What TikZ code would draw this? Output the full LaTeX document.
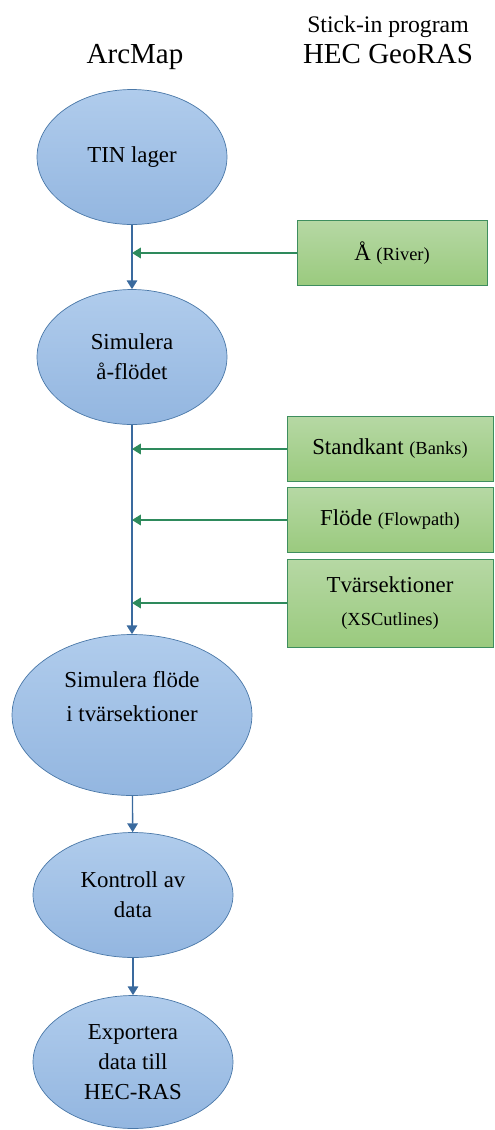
\documentclass[tikz,border=0pt]{standalone}
\usepackage{fontspec}
\setmainfont{Liberation Serif}
\usetikzlibrary{shapes.geometric,arrows.meta}
\definecolor{ellline}{HTML}{4A78A8}
\definecolor{elltop}{HTML}{B0CCEC}
\definecolor{ellbot}{HTML}{93B6E0}
\definecolor{boxline}{HTML}{3E8E5E}
\definecolor{boxtop}{HTML}{B6D8A4}
\definecolor{boxbot}{HTML}{9ACA7E}
\definecolor{flowblue}{HTML}{3A6A9E}
\definecolor{feedgreen}{HTML}{2E8A5C}
\begin{document}
\begin{tikzpicture}[x=0.02cm,y=-0.02cm]
 \tikzset{process/.style={draw=ellline, ellipse, inner sep=0pt, top color=elltop, bottom color=ellbot, align=center, font=\fontsize{13}{17}\selectfont}}
 \tikzset{input/.style={draw=boxline, rectangle, inner sep=0pt, top color=boxtop, bottom color=boxbot, align=center, font=\fontsize{13}{17}\selectfont}}
 \tikzset{directed/.style={-{Triangle[width=6pt,length=5pt]}}}
 \useasboundingbox (0,0) rectangle (494,1130);
  \node[font=\fontsize{16.5}{20}\selectfont, anchor=base] (arcmap) at (135,63) {ArcMap};
  \node[font=\fontsize{13.5}{16}\selectfont, anchor=base] (stick) at (388,32) {Stick-in program};
  \node[font=\fontsize{16.5}{20}\selectfont, anchor=base] (georas) at (388,63) {HEC GeoRAS};
  \node[process, minimum width=3.8cm, minimum height=2.7cm] (tin) at (132,157) {TIN lager};
  \node[process, minimum width=3.8cm, minimum height=2.7cm] (sim) at (132,357) {Simulera\\å-flödet};
  \node[process, minimum width=4.8cm, minimum height=3.22cm] (tvar) at (132,715) {Simulera flöde\\[2pt]i tvärsektioner\\[4pt]};
  \node[process, minimum width=4cm, minimum height=2.5cm] (kon) at (133,895) {Kontroll av\\data};
  \node[process, minimum width=4cm, minimum height=2.66cm] (exp) at (133,1062) {Exportera\\data till\\HEC-RAS};
  \node[input, minimum width=3.8cm, minimum height=1.3cm] (river) at (392,253) {Å {\fontsize{10.5}{13}\selectfont(River)}};
  \node[input, minimum width=4.12cm, minimum height=1.3cm] (banks) at (390,449) {Standkant {\fontsize{10.5}{13}\selectfont(Banks)}};
  \node[input, minimum width=4.12cm, minimum height=1.3cm] (flow) at (390,520) {Flöde {\fontsize{10.5}{13}\selectfont(Flowpath)}};
  \node[input, minimum width=4.12cm, minimum height=1.76cm] (xs) at (390,603) {Tvärsektioner\\[2pt]{\fontsize{10.5}{13}\selectfont(XSCutlines)}};
  \draw[thick, flowblue, directed] (tin) -- (sim);
  \draw[thick, flowblue, directed] (sim) -- (tvar);
  \draw[thick, flowblue, directed] (tvar) -- (kon);
  \draw[thick, flowblue, directed] (kon) -- (exp);
  \draw[thick, feedgreen, directed] (river.west) -- (river.west -| tin.south);
  \draw[thick, feedgreen, directed] (banks.west) -- (banks.west -| tin.south);
  \draw[thick, feedgreen, directed] (flow.west) -- (flow.west -| tin.south);
  \draw[thick, feedgreen, directed] (xs.west) -- (xs.west -| tin.south);
\end{tikzpicture}
\end{document}
